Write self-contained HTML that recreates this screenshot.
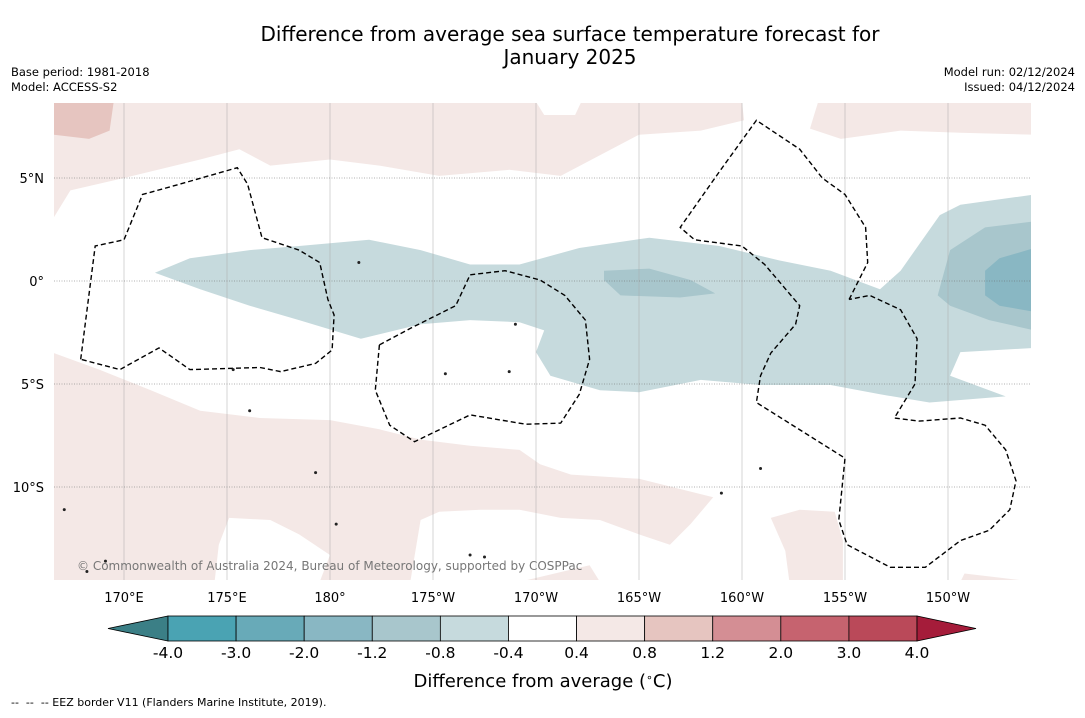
<!DOCTYPE html>
<html><head><meta charset="utf-8"><style>
body{margin:0;background:#fff;font-family:"Liberation Sans","DejaVu Sans",sans-serif;}
svg text{font-family:"DejaVu Sans","Liberation Sans",sans-serif;}
</style></head><body>
<svg id="c" width="1085" height="713" xmlns="http://www.w3.org/2000/svg">
<text x="570" y="41" font-size="20" text-anchor="middle">Difference from average sea surface temperature forecast for</text>
<text x="570" y="64" font-size="20" text-anchor="middle">January 2025</text>
<text x="11" y="76" font-size="11.5">Base period: 1981-2018</text>
<text x="11" y="91" font-size="11.5">Model: ACCESS-S2</text>
<text x="1075" y="76" font-size="11.5" text-anchor="end">Model run: 02/12/2024</text>
<text x="1075" y="91" font-size="11.5" text-anchor="end">Issued: 04/12/2024</text>
<defs><clipPath id="mc"><rect x="54" y="103" width="977" height="477"/></clipPath></defs>
<g id="map" clip-path="url(#mc)"></g>
<g id="axes"></g>
<g id="cbar"></g>
<text x="543" y="687" font-size="18" text-anchor="middle">Difference from average (<tspan baseline-shift="super" font-size="11">∘</tspan>C)</text>
<text x="11" y="706" font-size="11" xml:space="preserve">--  --  -- EEZ border V11 (Flanders Marine Institute, 2019).</text>
</svg>
<script>
const lonTicks=[170,175,180,185,190,195,200,205,210];
const lonLabels=["170°E","175°E","180°","175°W","170°W","165°W","160°W","155°W","150°W"];
const latTicks=[5,0,-5,-10];
const latLabels=["5°N","0°","5°S","10°S"];
const cbLevels=[-4.0,-3.0,-2.0,-1.2,-0.8,-0.4,0.4,0.8,1.2,2.0,3.0,4.0];
const cbLabels=["-4.0","-3.0","-2.0","-1.2","-0.8","-0.4","0.4","0.8","1.2","2.0","3.0","4.0"];
const cbColors=["#3b7f86","#4aa3b3","#68aab8","#89b7c3","#a8c6cc","#c6dadd","#ffffff","#f4e8e6","#e6c5c0","#d48e94","#c6636f","#ba4959","#a51c3a"];
const pinkTop=[[166.6,8.7],[190,8.7],[190.4,8.06],[191.9,8.06],[192.2,8.7],[200,8.7],[200.1,7.8],[198,7.3],[195,7.1],[193.1,6.1],[191.2,5.1],[188.7,5.4],[185.3,5.1],[182.4,5.6],[180,5.9],[177.1,5.6],[175.6,6.4],[173.7,5.9],[170,5],[167.4,4.4],[166.6,3.1]];
const pinkTopRight=[[203.7,8.7],[214.2,8.7],[214.2,7.1],[210.6,7.2],[207.7,7.3],[204.8,6.9],[203.3,7.4],[203.5,8.06]];
const pinkDarkTop=[[166.6,8.7],[169.5,8.7],[169.3,7.3],[168.3,6.9],[166.6,7.1]];
const blueLight=[[171.5,0.4],[173.2,1.1],[176.1,1.5],[178.5,1.7],[181.9,2],[184.4,1.5],[186.8,0.8],[189.2,0.8],[192.1,1.6],[195.5,2.1],[198.9,1.7],[201.8,1],[204.3,0.5],[206.7,-0.4],[207.7,0.5],[209.6,3.2],[210.6,3.7],[214.2,4.2],[214.2,-3.25],[210.6,-3.45],[210.1,-4.6],[212.8,-5.6],[209.1,-5.9],[206.7,-5.5],[204.3,-5.05],[200.9,-5.05],[198,-4.8],[195,-5.4],[193.1,-5.3],[190.7,-4.6],[190,-3.45],[190.4,-2.4],[189.2,-2],[186.8,-1.9],[184.4,-2.1],[181.5,-2.8],[178.5,-1.9],[176.1,-1.2],[173.7,-0.4]];
const blueMid1=[[193.3,0.5],[195.5,0.6],[197.5,0.05],[198.7,-0.6],[197,-0.8],[194.1,-0.7],[193.3,0.05]];
const blueMid2=[[209.5,-0.7],[210.1,1.5],[211.8,2.6],[214.2,2.9],[214.2,-2.4],[212,-1.9],[210.1,-1.2]];
const blueDark=[[211.8,0.5],[212.5,1.1],[214.2,1.6],[214.2,-1.5],[212.5,-1.2],[211.8,-0.7]];
const pinkBottom=[[166.6,-3.5],[168.8,-4.3],[171.3,-5.3],[173.7,-6.3],[176.6,-6.65],[180,-6.75],[182.4,-7.2],[184.4,-7.7],[186.8,-8],[189.2,-8.2],[190.2,-8.9],[191.7,-9.4],[195,-9.6],[198.6,-10.5],[197.5,-11.8],[196.5,-12.8],[195,-12.3],[193.1,-11.6],[191.2,-11.5],[189.2,-11.1],[187.3,-11.1],[185.3,-11.2],[184.4,-11.6],[183.9,-14.6],[166.6,-14.6]];
const whiteHole=[[175.1,-11.5],[177.1,-11.6],[178.5,-12.3],[180,-13.3],[179.5,-14.6],[174.4,-14.6],[174.6,-12.8]];
const pinkBottom2=[[189.2,-14.6],[192.6,-13.8],[193.1,-14.6]];
const pinkBottom3=[[201.4,-11.5],[202.8,-11.1],[204.5,-11.2],[204.9,-12.6],[204.9,-14.6],[202.3,-14.6],[202.1,-13.1]];
const pinkBottom4=[[210.8,-14.2],[212.5,-14.4],[214.2,-14.6],[210.6,-14.6]];
const regions=[[7,pinkTop],[7,pinkTopRight],[8,pinkDarkTop],[5,blueLight],[4,blueMid1],[4,blueMid2],[3,blueDark],[7,pinkBottom],[6,whiteHole],[7,pinkBottom2],[7,pinkBottom3],[7,pinkBottom4]];
const eez1=[[167.9,-3.8],[168.6,1.7],[170,2],[170.9,4.2],[172.7,4.7],[175.5,5.5],[176,4.7],[176.7,2.1],[178.5,1.5],[179.5,0.9],[179.9,-0.9],[180.2,-1.65],[180.1,-3.35],[179.3,-4],[177.6,-4.4],[176.6,-4.2],[173.2,-4.3],[171.7,-3.25],[169.8,-4.3],[167.9,-3.8]];
const eez2=[[182.4,-3.1],[183.9,-2.3],[186.1,-1.2],[186.8,0.3],[188.5,0.5],[190.2,0.05],[191.4,-0.7],[192.4,-1.9],[192.6,-3.8],[192.1,-5.5],[191.2,-6.9],[189.5,-6.95],[186.8,-6.5],[184.1,-7.8],[182.9,-7],[182.2,-5.3],[182.4,-3.1]];
const eez3=[[205.2,-0.9],[206.1,0.9],[206,2.6],[205,4.2],[203.9,5],[202.8,6.4],[200.7,7.8],[198.9,5.3],[197,2.6],[197.7,2],[200,1.7],[201.1,0.8],[202.8,-1.2],[202.6,-2.1],[201.4,-3.5],[200.9,-4.6],[200.7,-5.9],[205,-8.6],[204.7,-11.6],[205.1,-12.8],[207.2,-13.9],[208.9,-13.9],[210.6,-12.6],[212,-12.1],[213,-11.1],[213.3,-9.7],[212.8,-8.2],[211.8,-7],[210.6,-6.65],[208.6,-6.8],[207.4,-6.65],[208.4,-5],[208.5,-2.8],[207.7,-1.4],[206.2,-0.7],[205.2,-0.9]];
const islands=[[168.2,-14.1],[167.1,-11.1],[186.8,-13.3],[187.5,-13.4],[169.1,-13.6],[180.3,-11.8],[175.3,-4.3],[176.1,-6.3],[179.3,-9.3],[189,-2.1],[188.7,-4.4],[200.9,-9.1],[199,-10.3],[185.6,-4.5],[181.4,0.9]];
const NS="http://www.w3.org/2000/svg";
const X=lon=>124+(lon-170)*20.6, Y=lat=>281-lat*20.6;
function mk(t,a,p){const e=document.createElementNS(NS,t);for(const k in a)e.setAttribute(k,a[k]);p.appendChild(e);return e;}
const map=document.getElementById('map'),axes=document.getElementById('axes'),cb=document.getElementById('cbar');
const pts=a=>a.map(p=>X(p[0]).toFixed(1)+','+Y(p[1]).toFixed(1)).join(' ');
regions.forEach((r,i)=>{const e=mk('polygon',{points:pts(r[1]),fill:cbColors[r[0]]},map);

});
lonTicks.forEach((l,i)=>{const e=mk('line',{x1:X(l),x2:X(l),y1:103,y2:580,stroke:'#aaa','stroke-width':0.5},map);


const t=mk('text',{x:X(l),y:602,'font-size':13,'text-anchor':'middle'},axes);t.textContent=lonLabels[i];

});
latTicks.forEach((l,i)=>{const e=mk('line',{x1:54,x2:1031,y1:Y(l),y2:Y(l),stroke:'#666','stroke-width':0.6,'stroke-dasharray':'1,1.5'},map);


const t=mk('text',{x:44,y:Y(l)+5,'font-size':13,'text-anchor':'end'},axes);t.textContent=latLabels[i];

});
[eez1,eez2,eez3].forEach(a=>{const e=mk('polyline',{points:pts(a),fill:'none',stroke:'#000','stroke-width':1.4,'stroke-dasharray':'5,3'},map);

});
islands.forEach(p=>{const e=mk('circle',{cx:X(p[0]),cy:Y(p[1]),r:1.5,fill:'#222'},map);

});
const cr=mk('text',{x:77,y:570,'font-size':12,fill:'#777'},map);cr.textContent='© Commonwealth of Australia 2024, Bureau of Meteorology, supported by COSPPac';


const cx0=168,cw=(917-168)/(cbLevels.length-1),cy=616,ch=25;
const lt=mk('polygon',{points:`${cx0},${cy} ${cx0},${cy+ch} 108,${cy+ch/2}`,fill:cbColors[0],stroke:'#000','stroke-width':0.8},cb);


for(let i=0;i<cbLevels.length-1;i++){const e=mk('rect',{x:cx0+i*cw,y:cy,width:cw,height:ch,fill:cbColors[i+1],stroke:'#000','stroke-width':0.8},cb);

}
const rt=mk('polygon',{points:`917,${cy} 917,${cy+ch} 976,${cy+ch/2}`,fill:cbColors[12],stroke:'#000','stroke-width':0.8},cb);


cbLabels.forEach((s,i)=>{const t=mk('text',{x:cx0+i*cw,y:658,'font-size':15.5,'text-anchor':'middle'},cb);t.textContent=s;

});
</script>
</body></html>
